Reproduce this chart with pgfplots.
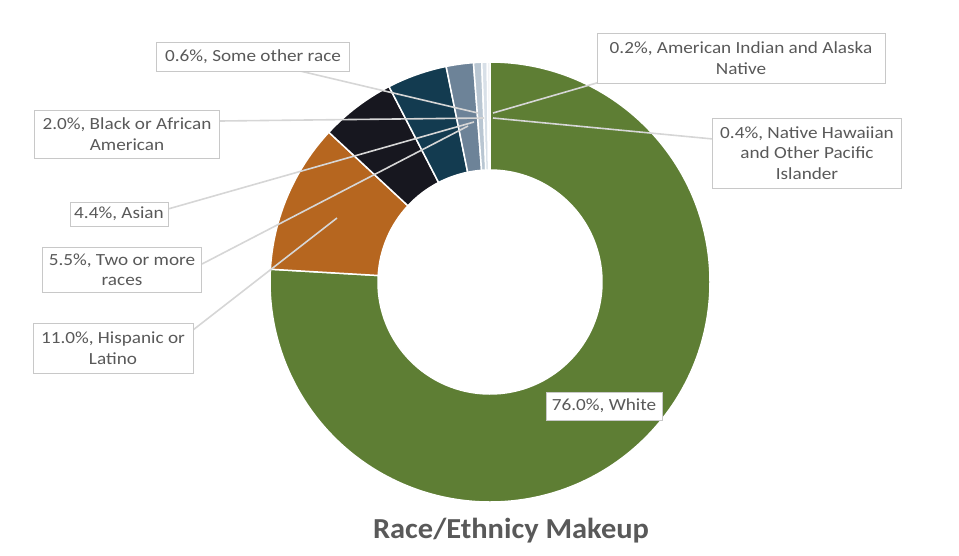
\documentclass[border=0pt]{standalone}
\usepackage{pgfplots}
\pgfplotsset{compat=1.18}
\usepackage{pgfplotstable}
\usepackage{fontspec}
\setmainfont{Carlito}
\newfontfamily\lblfont[FakeStretch=1.13]{Carlito}
\newfontfamily\ttlfont[FakeStretch=1.05]{Carlito}
\definecolor{cWhite}{HTML}{5E7E34}
\definecolor{cHisp}{HTML}{B6661F}
\definecolor{cTwo}{HTML}{17171F}
\definecolor{cAsian}{HTML}{133B50}
\definecolor{cBlack}{HTML}{6D8398}
\definecolor{cOther}{HTML}{B9C6D2}
\definecolor{cNHPI}{HTML}{D8E0E8}
\definecolor{cAIAN}{HTML}{EEF1F4}
\definecolor{lead}{HTML}{D6D6D6}
\definecolor{boxc}{HTML}{C8C8C8}
\definecolor{txt}{HTML}{595959}
\pgfplotstableread[col sep=comma]{
pct,col
76.0,cWhite
11.0,cHisp
5.5,cTwo
4.4,cAsian
2.0,cBlack
0.6,cOther
0.4,cNHPI
0.2,cAIAN
}\racedata
\begin{document}
\begin{tikzpicture}
\begin{axis}[
  x=1pt, y=1pt,
  xmin=0, xmax=959, ymin=0, ymax=555,
  y dir=reverse,
  hide axis, clip=false, enlargelimits=false,
]
\path (axis cs:0,0) rectangle (axis cs:959,555);
\pgfmathsetmacro\aStart{90}
\pgfplotsforeachungrouped \i in {0,...,7}{%
  \pgfplotstablegetelem{\i}{pct}\of\racedata \let\v\pgfplotsretval
  \pgfplotstablegetelem{\i}{col}\of\racedata \let\c\pgfplotsretval
  \pgfmathsetmacro\aEnd{\aStart - \v/100.1*360}%
  \edef\cmd{\noexpand\fill[fill=\c, draw=white, line width=1.5pt]
    (axis cs:490,282) ++(\aStart:220pt)
    arc[start angle=\aStart, end angle=\aEnd, radius=220pt]
    -- ++(\aEnd:-108pt)
    arc[start angle=\aEnd, end angle=\aStart, radius=112pt] -- cycle;}%
  \cmd
  \global\let\aStart\aEnd
}
% leader lines
\begin{scope}[lead, line width=1.6pt]
\draw (axis cs:300,71) -- (axis cs:478,113);
\draw (axis cs:220,121) -- (axis cs:484,118);
\draw (axis cs:168,209) -- (axis cs:474,122);
\draw (axis cs:202,264) -- (axis cs:468,126);
\draw (axis cs:193,330) -- (axis cs:337,218);
\draw (axis cs:600,82) -- (axis cs:493,113);
\draw (axis cs:713,139) -- (axis cs:493,118);
\end{scope}
% labels
\begin{scope}[every node/.style={draw=boxc, fill=white, text=txt, align=center,
   font=\lblfont\fontsize{17}{20.5}\selectfont, inner xsep=3pt, inner ysep=2pt, line width=0.8pt}]
\node[minimum width=193pt, minimum height=29pt] at (axis cs:253,57) {0.6\%, Some other race};
\node[minimum width=288pt, minimum height=50pt] at (axis cs:741,58) {0.2\%, American Indian and Alaska\\Native};
\node[minimum width=189pt, minimum height=70pt] at (axis cs:807,153) {0.4\%, Native Hawaiian\\and Other Pacific\\Islander};
\node[minimum width=185pt, minimum height=48pt] at (axis cs:127,134) {2.0\%, Black or African\\American};
\node[minimum width=98pt, minimum height=24pt] at (axis cs:119,214) {4.4\%, Asian};
\node[minimum width=159pt, minimum height=45pt] at (axis cs:122,270) {5.5\%, Two or more\\races};
\node[minimum width=160pt, minimum height=50pt] at (axis cs:113,348) {11.0\%, Hispanic or\\Latino};
\node[minimum width=116pt, minimum height=28pt] at (axis cs:604,406) {76.0\%, White};
\end{scope}
\node[text=txt, font=\ttlfont\fontsize{29}{34}\selectfont\bfseries] at (axis cs:511,531) {Race/Ethnicy Makeup};
\end{axis}
\end{tikzpicture}
\end{document}
